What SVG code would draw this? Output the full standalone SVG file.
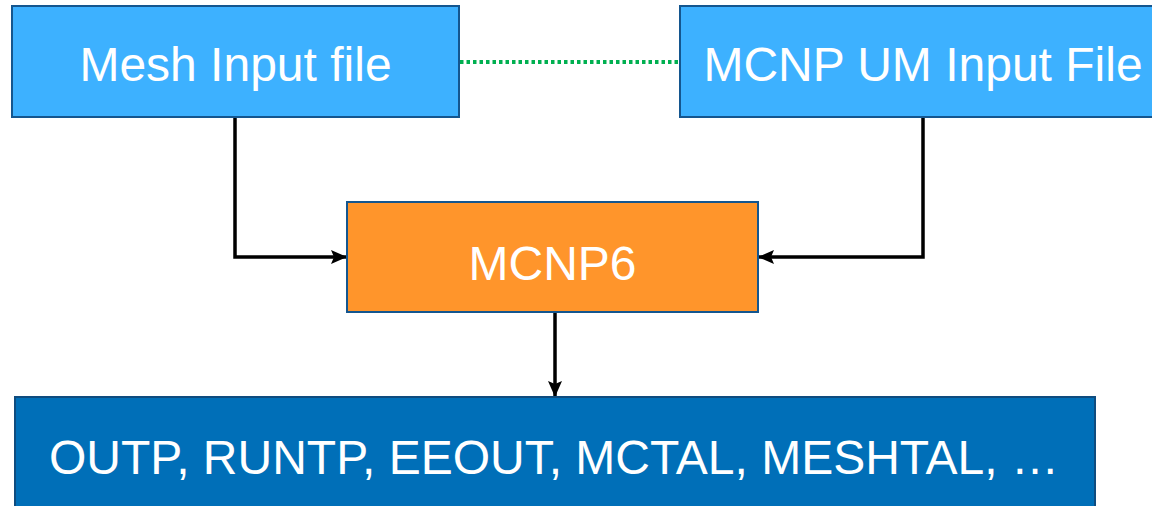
<svg xmlns="http://www.w3.org/2000/svg" width="1152" height="506" viewBox="0 0 1152 506">
<style>
.lbl{font-family:"Liberation Sans",Arial,sans-serif;font-size:48px;fill:#ffffff;text-anchor:middle}
.in{fill:#3DB1FF;stroke:#14568F;stroke-width:2}
.conn{fill:none;stroke:#000;stroke-width:3.5}
</style>
<defs>
<marker id="ah" markerWidth="16" markerHeight="14" refX="15" refY="7" orient="auto" markerUnits="userSpaceOnUse">
<path d="M0,0 L16,7 L0,14 L3,7 Z" fill="#000"/>
</marker>
</defs>
<rect width="1152" height="506" fill="#ffffff"/>
<g id="connectors">
<line x1="460" y1="62" x2="679" y2="62" stroke="#00B050" stroke-width="4" stroke-dasharray="3.5 3"/>
<polyline class="conn" points="235,117 235,257 346,257" marker-end="url(#ah)"/>
<polyline class="conn" points="923,117 923,257 759,257" marker-end="url(#ah)"/>
<line class="conn" x1="555" y1="312" x2="555" y2="396" marker-end="url(#ah)"/>
</g>
<g id="mesh">
<rect class="in" x="12" y="6" width="447" height="111"/>
<text class="lbl" x="235.5" y="81">Mesh Input file</text>
</g>
<g id="mcnpum">
<rect class="in" x="680" y="6" width="480" height="111"/>
<text class="lbl" x="923" y="81">MCNP UM Input File</text>
</g>
<g id="mcnp6">
<rect x="347" y="202" width="411" height="110" fill="#FF952B" stroke="#14568F" stroke-width="2"/>
<text class="lbl" x="552.5" y="280">MCNP6</text>
</g>
<g id="outputs">
<rect x="15" y="397" width="1080" height="120" fill="#006FB8" stroke="#0F4C7F" stroke-width="2"/>
<text class="lbl" x="554" y="474">OUTP, RUNTP, EEOUT, MCTAL, MESHTAL, …</text>
</g>
</svg>
